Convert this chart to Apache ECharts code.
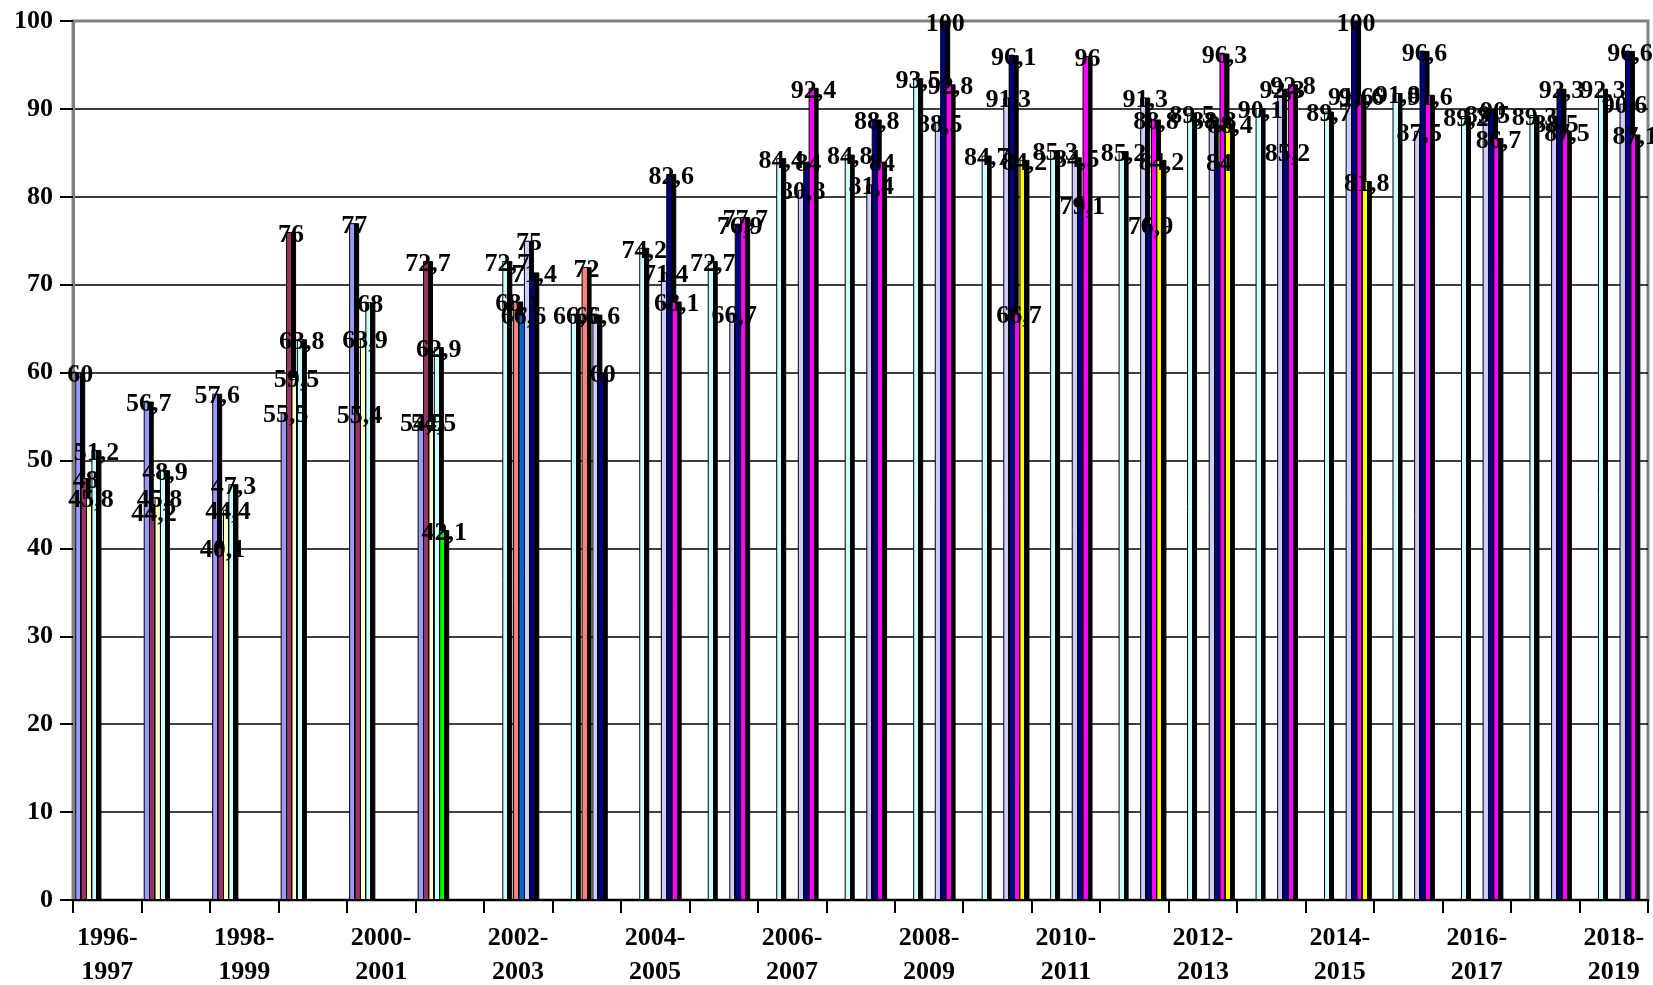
<!DOCTYPE html>
<html>
<head>
<meta charset="utf-8">
<script src="https://cdn.jsdelivr.net/npm/echarts@6/dist/echarts.min.js"></script>
<style>
  html, body { margin: 0; padding: 0; background: #fff; }
  #chartBox { width: 1653px; height: 985px; }
</style>
</head>
<body>
<div id="chartBox"></div>
<script>
// school years on the x axis
const categories = [
  '1996-\n1997', '1997-\n1998', '1998-\n1999', '1999-\n2000', '2000-\n2001', '2001-\n2002',
  '2002-\n2003', '2003-\n2004', '2004-\n2005', '2005-\n2006', '2006-\n2007', '2007-\n2008',
  '2008-\n2009', '2009-\n2010', '2010-\n2011', '2011-\n2012', '2012-\n2013', '2013-\n2014',
  '2014-\n2015', '2015-\n2016', '2016-\n2017', '2017-\n2018', '2018-\n2019'
]
const yTicks = [0, 10, 20, 30, 40, 50, 60, 70, 80, 90, 100]

const _ = null
const s1 = [60, 56.7, 57.6, 55.5, 77, 54.5, _, _, _, _, _, _, _, _, _, _, _, _, _, _, _, _, _]
const s2 = [48, 44.2, 40.1, 76, 55.4, 72.7, _, _, _, _, _, _, _, _, _, _, _, _, _, _, _, _, _]
const s3 = [45.8, 45.8, 44.4, 59.5, 63.9, 54.5, _, _, _, _, _, _, _, _, _, _, _, _, _, _, _, _, _]
const s4 = [51.2, 48.9, 47.3, 63.8, 68, 62.9, 72.7, 66.6, 74.2, 72.7, 84.4, 84.8, 93.5, 84.7, 85.3, 85.2, 89.5, 90.1, 89.7, 91.8, 89.2, 89.3, 92.3]
const s5 = [_, _, _, _, _, 42.1, _, _, _, _, _, _, _, _, _, _, _, _, _, _, _, _, _]
const s6 = [_, _, _, _, _, _, 68.1, 72, _, _, _, _, _, _, _, _, _, _, _, _, _, _, _]
const s7 = [_, _, _, _, _, _, 66.6, _, _, _, _, _, _, _, _, _, _, _, _, _, _, _, _]
const s8 = [_, _, _, _, _, _, 75, 66.6, 71.4, 66.7, 80.8, 81.4, 88.5, 91.3, 84.5, 91.3, 88.8, 92.3, 91.6, 87.5, 89.5, 88.5, 90.6]
const s9 = [_, _, _, _, _, _, 71.4, 60, 82.6, 76.9, 84, 88.8, 100, 96.1, 79.1, 76.9, 84, 85.2, 100, 96.6, 90, 92.3, 96.6]
const s10 = [_, _, _, _, _, _, _, _, 68.1, 77.7, 92.4, 84, 92.8, 66.7, 96, 88.8, 96.3, 92.8, 91.6, 91.6, 86.7, 87.5, 87.1]
const s11 = [_, _, _, _, _, _, _, _, _, _, _, _, _, 84.2, _, 84.2, 88.4, _, 81.8, _, _, _, _]

const seriesData = [s1, s2, s3, s4, s5, s6, s7, s8, s9, s10, s11]
const colors = ['#9999FF', '#993366', '#FFFFCC', '#CCFFFF', '#00FF00', '#FF8080',
  '#0066CC', '#CCCCFF', '#000080', '#FF00FF', '#FFFF00']

const FONT = 'Liberation Serif'

// left half coloured, right half black: imitates the dark side of the old 3-d bars
const fillWithShade = c => ({
  type: 'linear', x: 0, y: 0, x2: 1, y2: 0,
  colorStops: [
    { offset: 0, color: c }, { offset: 0.5, color: c },
    { offset: 0.5, color: '#000' }, { offset: 1, color: '#000' },
  ],
})

const series = seriesData.map((d, i) => ({
  type: 'bar',
  data: d,
  barWidth: 10,
  barGap: '-46%',
  itemStyle: {
    color: fillWithShade(colors[i]),
    borderColor: '#000',
    borderWidth: 1,
  },
  label: {
    show: true,
    position: ['50%', 0],
    offset: [0, 3],
    align: 'center',
    verticalAlign: 'middle',
    color: '#000',
    fontFamily: FONT,
    fontWeight: 'bold',
    fontSize: 26,
    formatter: p => String(p.value).replace('.', ','),
  },
}))

const option = {
  animation: false,
  backgroundColor: '#fff',
  grid: {
    left: 73,
    right: 5,
    top: 21,
    bottom: 85,
    outerBoundsMode: 'none',
    show: true,
    borderColor: '#808080',
    borderWidth: 3,
  },
  xAxis: {
    type: 'category',
    data: categories,
    axisLine: { lineStyle: { color: '#000', width: 2 } },
    axisTick: { show: true, interval: 0, length: 13, lineStyle: { color: '#000', width: 2 } },
    axisLabel: {
      interval: 1,
      margin: 21,
      color: '#000',
      fontFamily: FONT,
      fontWeight: 'bold',
      fontSize: 26,
      lineHeight: 34,
    },
  },
  yAxis: {
    type: 'value',
    min: yTicks[0],
    max: yTicks[yTicks.length - 1],
    interval: 10,
    axisLine: { show: true, lineStyle: { color: '#808080', width: 3 } },
    axisTick: { show: true, length: 13, lineStyle: { color: '#000', width: 2 } },
    axisLabel: {
      margin: 20,
      color: '#000',
      fontFamily: FONT,
      fontWeight: 'bold',
      fontSize: 26,
    },
    splitLine: {
      lineStyle: {
        color: yTicks.map(v => (v === 100 ? '#808080' : '#000')),
        width: 1.5,
      },
    },
  },
  series,
}

const chart = echarts.init(document.getElementById('chartBox'))
chart.setOption(option)
</script>
</body>
</html>
